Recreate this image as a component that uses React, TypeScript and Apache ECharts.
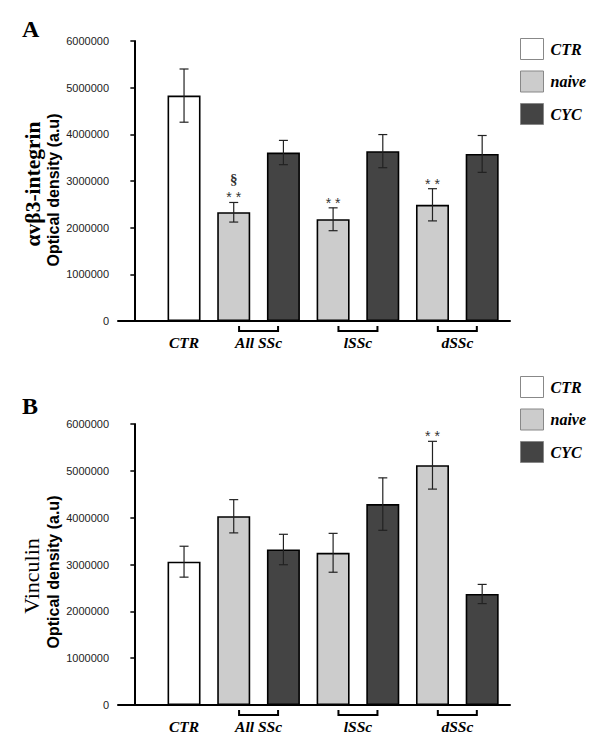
import React, { useEffect, useRef } from "react";
import * as echarts from "echarts";

// ---- data ----
const seriesNames = ["CTR", "naive", "CYC"];
const ctrPos = [1];
const naivePos = [2, 4, 6];
const cycPos = [3, 5, 7];
const groupLabelPos = [1, 2.5, 4.5, 6.5];
const groupLabels = ["CTR", "All SSc", "lSSc", "dSSc"];
const bracketPos = [2.5, 4.5, 6.5];
const yTicks = [0, 1000000, 2000000, 3000000, 4000000, 5000000, 6000000];

// Panel A: αvβ3-integrin
const aCtr = [4830000];
const aCtrErr = [570000];
const aNaive = [2330000, 2180000, 2490000];
const aNaiveErr = [210000, 245000, 345000];
const aCyc = [3610000, 3640000, 3580000];
const aCycErr = [260000, 355000, 395000];
const aMarkers = [
  { pos: 2, text: "§\n* *" },
  { pos: 4, text: "* *" },
  { pos: 6, text: "* *" },
];

// Panel B: Vinculin
const bCtr = [3060000];
const bCtrErr = [330000];
const bNaive = [4030000, 3250000, 5120000];
const bNaiveErr = [355000, 415000, 510000];
const bCyc = [3320000, 4290000, 2370000];
const bCycErr = [325000, 560000, 205000];
const bMarkers = [{ pos: 6, text: "* *" }];

const colors = ["#ffffff", "#cccccc", "#444444"];

export default function App() {
  const ref = useRef<HTMLDivElement>(null);

  useEffect(() => {
    if (!ref.current) return;
    const chart = echarts.init(ref.current, null, { renderer: "svg" });

    const serif = "Liberation Serif";
    const sans = "Liberation Sans";
    const xMin = -0.329;
    const xMax = 7.56;

    const zip = (pos: number[], vals: number[]) => pos.map((p, i) => [p, vals[i]]);
    const zipErr = (pos: number[], vals: number[], errs: number[]) =>
      pos.map((p, i) => [p, vals[i], errs[i]]);

    const panels = [
      {
        top: 41,
        height: 280,
        ctr: aCtr, ctrErr: aCtrErr, naive: aNaive, naiveErr: aNaiveErr, cyc: aCyc, cycErr: aCycErr,
        markers: aMarkers,
      },
      {
        top: 424,
        height: 281,
        ctr: bCtr, ctrErr: bCtrErr, naive: bNaive, naiveErr: bNaiveErr, cyc: bCyc, cycErr: bCycErr,
        markers: bMarkers,
      },
    ];

    const grid = panels.map((p) => ({ left: 118, top: p.top, width: 392, height: p.height }));

    const xAxis = panels.map((_, i) => ({
      type: "value",
      gridIndex: i,
      min: xMin,
      max: xMax,
      splitLine: { show: false },
      axisTick: { show: false },
      axisLine: { show: true, onZero: false, lineStyle: { color: "#000", width: 2 } },
      axisLabel: {
        customValues: groupLabelPos,
        margin: 13,
        formatter: (v: number) => {
          const idx = groupLabelPos.findIndex((g) => Math.abs(g - v) < 1e-6);
          return idx >= 0 ? groupLabels[idx] : "";
        },
        fontFamily: serif,
        fontWeight: "bold",
        fontStyle: "italic",
        fontSize: 15.5,
        color: "#000",
      },
    }));

    const yAxis = panels.map((_, i) => ({
      type: "value",
      gridIndex: i,
      min: 0,
      max: 6000000,
      interval: 1000000,
      splitLine: { show: false },
      axisLine: { show: true, lineStyle: { color: "#000", width: 2 } },
      axisTick: { show: true, length: 4, lineStyle: { color: "#000", width: 1.5 } },
      axisLabel: {
        margin: 9,
        fontFamily: sans,
        fontSize: 11,
        color: "#222",
        formatter: (v: number) => (yTicks.includes(v) ? String(v) : ""),
      },
    }));

    const series: any[] = [];
    panels.forEach((p, i) => {
      const barBase = {
        type: "bar",
        xAxisIndex: i,
        yAxisIndex: i,
        barWidth: 33,
        barGap: "-100%",
        z: 2,
      };
      [
        zip(ctrPos, p.ctr),
        zip(naivePos, p.naive),
        zip(cycPos, p.cyc),
      ].forEach((d, k) => {
        series.push({
          ...barBase,
          name: seriesNames[k],
          data: d,
          itemStyle: { color: colors[k], borderColor: "#000", borderWidth: 1.6 },
        });
      });

      const errData = [
        ...zipErr(ctrPos, p.ctr, p.ctrErr),
        ...zipErr(naivePos, p.naive, p.naiveErr),
        ...zipErr(cycPos, p.cyc, p.cycErr),
      ];
      series.push({
        type: "custom",
        xAxisIndex: i,
        yAxisIndex: i,
        z: 5,
        data: errData,
        renderItem: (params: any, api: any) => {
          const x = api.value(0);
          const m = api.value(1);
          const e = api.value(2);
          const hi = api.coord([x, m + e]);
          const lo = api.coord([x, m - e]);
          const cw = 4.5;
          const st = { stroke: "#222", lineWidth: 1.2 };
          return {
            type: "group",
            children: [
              { type: "line", shape: { x1: hi[0], y1: hi[1], x2: lo[0], y2: lo[1] }, style: st },
              { type: "line", shape: { x1: hi[0] - cw, y1: hi[1], x2: hi[0] + cw, y2: hi[1] }, style: st },
              { type: "line", shape: { x1: lo[0] - cw, y1: lo[1], x2: lo[0] + cw, y2: lo[1] }, style: st },
            ],
          };
        },
      });

      // significance markers
      const markerData = p.markers.map((mk) => {
        const idx = naivePos.indexOf(mk.pos);
        return [mk.pos, p.naive[idx] + p.naiveErr[idx]];
      });
      series.push({
        type: "custom",
        xAxisIndex: i,
        yAxisIndex: i,
        z: 6,
        data: markerData,
        renderItem: (params: any, api: any) => {
          const pt = api.coord([api.value(0), api.value(1)]);
          const txt = p.markers[params.dataIndex].text;
          const lines = txt.split("\n").reverse();
          const children: any[] = [];
          lines.forEach((ln: string, li: number) => {
            const isSec = ln === "§";
            children.push({
              type: "text",
              x: pt[0],
              y: isSec ? pt[1] - 23 : pt[1] - 5,
              style: {
                text: ln,
                fill: "#333",
                fontFamily: isSec ? serif : sans,
                fontWeight: isSec ? "bold" : "normal",
                fontSize: isSec ? 15 : 14,
                align: "center",
                verticalAlign: isSec ? "middle" : "middle",
              },
            });
          });
          return { type: "group", children };
        },
      });

      // brackets under groups
      series.push({
        type: "custom",
        xAxisIndex: i,
        yAxisIndex: i,
        z: 6,
        clip: false,
        data: bracketPos.map((b) => [b, 0]),
        renderItem: (params: any, api: any) => {
          const c = api.coord([api.value(0), 0]);
          const hw = 19.5;
          const yb = c[1] + 10;
          const yt = c[1] + 5;
          return {
            type: "polyline",
            shape: {
              points: [
                [c[0] - hw, yt],
                [c[0] - hw, yb],
                [c[0] + hw, yb],
                [c[0] + hw, yt],
              ],
            },
            style: { stroke: "#000", lineWidth: 2, fill: "none" },
          };
        },
      });
    });

    const legendBase = {
      orient: "vertical",
      left: 520,
      itemWidth: 23,
      itemHeight: 21,
      itemGap: 10.5,
      padding: 0,
      icon: "rect",
      selectedMode: false,
      data: seriesNames,
      itemStyle: { borderColor: "#888", borderWidth: 1 },
      textStyle: {
        fontFamily: serif,
        fontWeight: "bold",
        fontStyle: "italic",
        fontSize: 16,
        color: "#000",
        padding: [0, 0, 0, 2],
      },
    };

    const titleText = (t: string, x: number, y: number, font: string, size: number, weight: string) => ({
      type: "text",
      x,
      y,
      rotation: Math.PI / 2,
      style: {
        text: t,
        fontFamily: font,
        fontSize: size,
        fontWeight: weight,
        fill: "#000",
        align: "center",
        verticalAlign: "middle",
      },
    });

    chart.setOption({
      animation: false,
      backgroundColor: "#fff",
      grid,
      xAxis,
      yAxis,
      legend: [
        { ...legendBase, top: 38 },
        { ...legendBase, top: 376 },
      ],
      series,
      graphic: [
        {
          type: "text",
          left: 22,
          top: 17,
          style: { text: "A", fontFamily: serif, fontWeight: "bold", fontSize: 24, fill: "#000" },
        },
        {
          type: "text",
          left: 22,
          top: 394,
          style: { text: "B", fontFamily: serif, fontWeight: "bold", fontSize: 24, fill: "#000" },
        },
        titleText("αvβ3-integrin", 33, 184, serif, 21.5, "bold"),
        titleText("Optical density (a.u)", 53, 190, sans, 16, "bold"),
        titleText("Vinculin", 31, 576, serif, 22, "normal"),
        titleText("Optical density (a.u)", 53, 572, sans, 16, "bold"),
      ],
    });

    return () => chart.dispose();
  }, []);

  return (
    <div
      ref={ref}
      style={{ position: "absolute", left: 0, top: 0, width: 600, height: 746, background: "#fff" }}
    />
  );
}
